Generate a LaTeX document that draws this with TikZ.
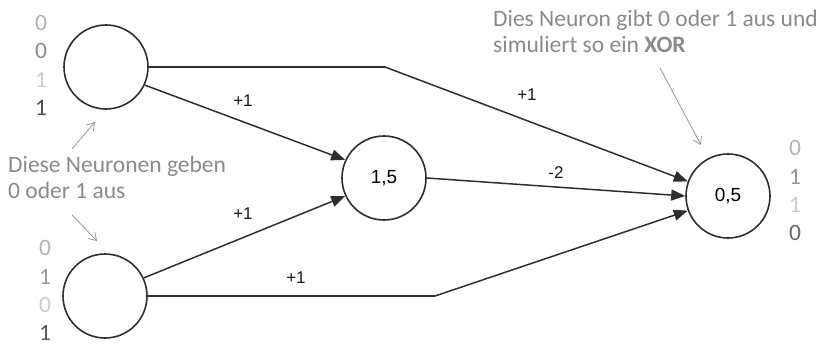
\documentclass[tikz,border=0pt]{standalone}
\usepackage{fontspec}
\setmainfont{Carlito}
\newfontfamily\arialf{Liberation Sans}
\usetikzlibrary{arrows.meta}
\definecolor{lineg}{HTML}{2E2E2E}
\definecolor{annot}{HTML}{8A8A8A}
\tikzset{
  neuron/.style={circle, draw=lineg, line width=1.6pt, minimum size=84pt, inner sep=0pt, font=\arialf\fontsize{19}{19}\selectfont},
  conn/.style={draw=lineg, line width=1.5pt, -{Triangle[length=14pt,width=11pt]}},
  connplain/.style={draw=lineg, line width=1.5pt},
  wlabel/.style={font=\arialf\fontsize{17}{17}\selectfont, text=black!90},
  digit/.style={font=\fontsize{23.5}{23.5}\selectfont, inner sep=0pt},
  note/.style={font=\fontsize{23.5}{26}\selectfont, text=annot, inner sep=0pt},
  pointer/.style={draw=annot!90, line width=0.8pt, -{Straight Barb[length=7pt,width=9pt]}}
}
\begin{document}
\begin{tikzpicture}[x=1pt,y=-1pt]
\useasboundingbox (0,0) rectangle (822,345);
% neurons
\node[neuron] (a) at (106,67) {};
\node[neuron] (b) at (105,296) {};
\node[neuron] (h) at (384,178) {1,5};
\node[neuron] (o) at (728,196) {0,5};
% bends
\coordinate (ka) at (385,67);
\coordinate (kb) at (435,296);
% connectors
\draw[connplain] (a.east) -- (ka);
\draw[conn] (ka) -- (o.160);
\draw[conn] (a.-25) -- (h.155);
\draw[conn] (b.25) -- (h.205);
\draw[connplain] (b.east) -- (kb);
\draw[conn] (kb) -- (o.200);
\draw[conn] (h.east) -- (o.180);
% weights
\node[wlabel] (w1) at (243,101) {+1};
\node[wlabel] (w2) at (527,95) {+1};
\node[wlabel] (w3) at (243,214) {+1};
\node[wlabel] (w4) at (296,278) {+1};
\node[wlabel] (w5) at (556,173) {-2};
% digits top-left
\node[digit, text=black!30] (d1) at (41,23) {0};
\node[digit, text=black!45] (d2) at (41,51) {0};
\node[digit, text=black!20] (d3) at (41,80) {1};
\node[digit, text=black!70] (d4) at (41,108) {1};
% digits bottom-left
\node[digit, text=black!30] (e1) at (45,248) {0};
\node[digit, text=black!40] (e2) at (45,277) {1};
\node[digit, text=black!20] (e3) at (45,305) {0};
\node[digit, text=black!65] (e4) at (45,333) {1};
% digits right
\node[digit, text=black!30] (f1) at (795,148) {0};
\node[digit, text=black!42] (f2) at (795,177) {1};
\node[digit, text=black!20] (f3) at (795,205) {1};
\node[digit, text=black!60] (f4) at (795,233) {0};
% notes
\node[note, anchor=base west] (n1) at (8,172) {Diese Neuronen geben};
\node[note, anchor=base west] (n1b) at (8,198) {0 oder 1 aus};
\node[note, anchor=base west] (n2) at (493,27) {Dies Neuron gibt 0 oder 1 aus und};
\node[note, anchor=base west] (n2b) at (493,53) {simuliert so ein \textbf{XOR}};
\coordinate (p1s) at (72,149);
\coordinate (p1e) at (95,122);
\coordinate (p2s) at (72,215);
\coordinate (p2e) at (97,241);
\coordinate (p3s) at (660,68);
\coordinate (p3e) at (701,145);
\draw[pointer] (p1s) -- (p1e);
\draw[pointer] (p2s) -- (p2e);
\draw[pointer] (p3s) -- (p3e);
\end{tikzpicture}
\end{document}
